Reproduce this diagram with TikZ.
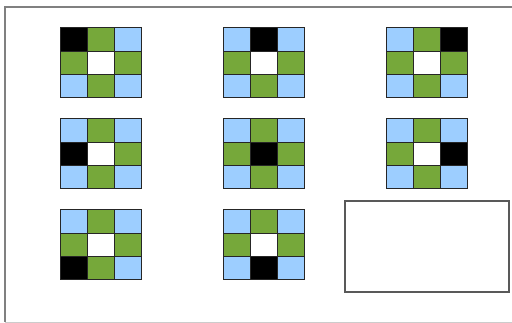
\documentclass[tikz,border=0pt]{standalone}
\definecolor{cblue}{HTML}{9DCEFF}
\definecolor{cgreen}{HTML}{76A83A}
\begin{document}
\begin{tikzpicture}[x=1pt,y=-1pt,
  cell/.style={draw=black!85,line width=1pt,minimum width=27.33pt,minimum height=23.33pt,inner sep=0pt,outer sep=0pt,anchor=north west},
  frame/.style={draw=black!50,line width=1.4pt},
  emptybox/.style={draw=black!65,line width=1.6pt,minimum width=164pt,minimum height=91pt,inner sep=0pt,anchor=north west}]
\useasboundingbox (0,0) rectangle (512,323);
\draw[frame] (513,7) -- (5,7) -- (5,322);
\draw[draw=black!20,line width=0.8pt] (5,322) -- (513,322);
\foreach \gx/\gy/\bk [count=\g] in {60/28/1,223/28/2,386/28/3,60/119/4,223/119/5,386/119/6,60/210/7,223/210/8}{
  \foreach \r in {0,1,2}{
    \foreach \c in {0,1,2}{
      \pgfmathtruncatemacro\k{\r*3+\c+1}
      \pgfmathtruncatemacro\pp{mod(\r+\c,2)}
      \ifnum\k=\bk \def\col{black}\else
        \ifnum\k=5 \def\col{white}\else
          \ifnum\pp=1 \def\col{cgreen}\else \def\col{cblue}\fi
        \fi
      \fi
      \node[cell,fill=\col] (g\g-\k) at ({\gx+\c*27.33},{\gy+\r*23.33}) {};
    }
  }
}
\node[emptybox] (blank) at (344,200) {};
\end{tikzpicture}
\end{document}
